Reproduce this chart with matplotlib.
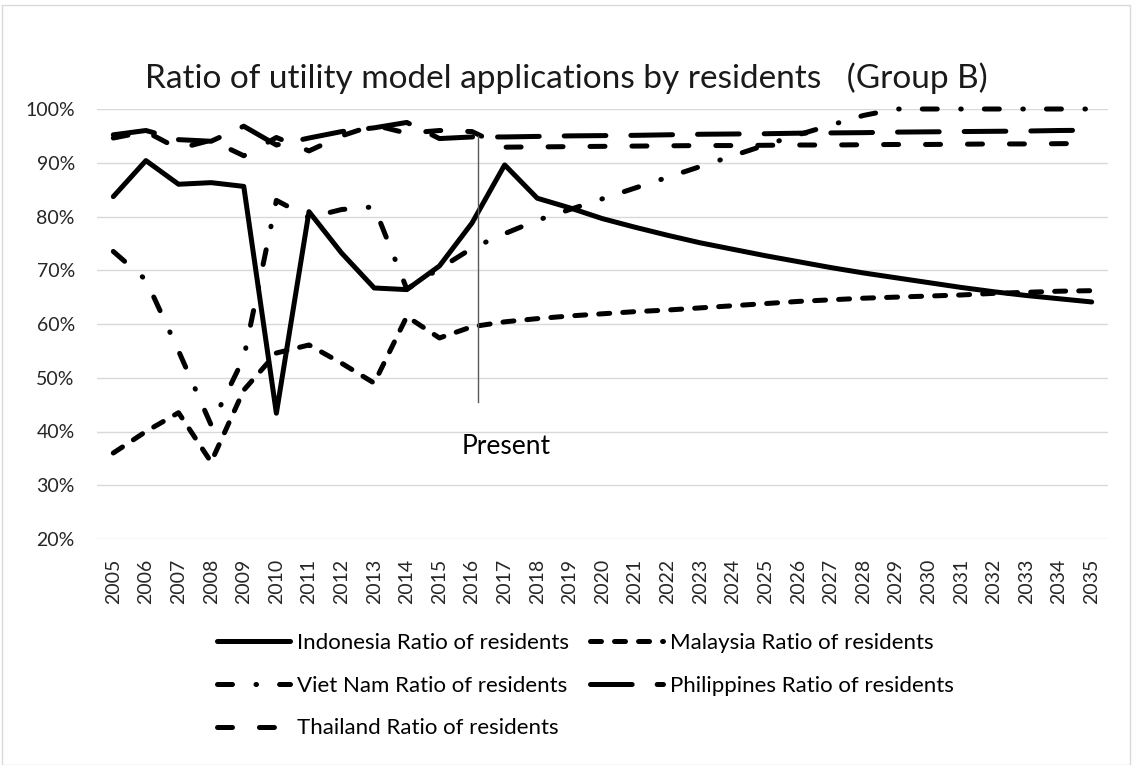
import numpy as np
import matplotlib.pyplot as plt
from matplotlib.patches import Rectangle
from matplotlib.ticker import PercentFormatter

plt.rcParams['font.family'] = ['Lato', 'DejaVu Sans']
plt.rcParams['lines.scale_dashes'] = False

# Données (en %)
years = [str(y) for y in range(2005, 2036)]
indonesia = [83.7, 90.4, 86.0, 86.3, 85.6, 43.4, 80.9, 73.2, 66.7, 66.4, 70.8, 78.8, 89.6,
             83.4, 81.6, 79.6, 78.0, 76.5, 75.1, 73.9, 72.7, 71.6, 70.5, 69.5, 68.6, 67.7,
             66.8, 66.0, 65.3, 64.7, 64.1]
malaysia = [36.0, 40.0, 43.5, 34.3, 47.7, 54.6, 56.1, 52.7, 49.0, 61.4, 57.4, 59.5, 60.4,
            61.0, 61.5, 61.9, 62.3, 62.6, 63.0, 63.4, 63.8, 64.2, 64.5, 64.8, 65.0, 65.2,
            65.4, 65.7, 65.9, 66.1, 66.2]
vietnam = [73.5, 68.2, 55.0, 41.2, 53.7, 83.0, 79.8, 81.3, 81.8, 66.5, 70.3, 74.1, 76.8,
           79.3, 81.3, 83.3, 85.3, 87.3, 89.3, 91.3, 93.3, 95.2, 97.0, 98.8, 100, 100,
           100, 100, 100, 100, 100]
philippines = [95.2, 96.0, 94.3, 94.0, 96.8, 93.3, 94.6, 95.8, 96.5, 97.5, 94.5, 94.8, 94.8,
               94.9, 95.0, 95.05, 95.1, 95.2, 95.3, 95.35, 95.4, 95.5, 95.55, 95.6, 95.7,
               95.75, 95.8, 95.85, 95.9, 96.0, 96.05]
thailand = [94.6, 95.8, 92.6, 94.2, 91.3, 94.7, 92.2, 95.0, 97.0, 95.5, 96.0, 95.8, 92.9,
            92.95, 93.0, 93.05, 93.1, 93.15, 93.2, 93.2, 93.25, 93.3, 93.3, 93.35, 93.4,
            93.4, 93.45, 93.5, 93.5, 93.55, 93.6]

# Repère "Present"
present_x = 11.17
present_y = (45.5, 95.0)

x = np.arange(len(years))

fig = plt.figure(figsize=(11.32, 7.65), dpi=100)
fig.patches.append(Rectangle((0.002, 0.0), 0.996, 0.993, transform=fig.transFigure,
                             fill=False, edgecolor='#d9d9d9', linewidth=1.0))
ax = fig.add_axes([97 / 1132, 1 - 539 / 765, (1108 - 97) / 1132, (539 - 109) / 765])

lw = 3.6
common = dict(color='black', linewidth=lw, clip_on=False,
              dash_capstyle='round', solid_capstyle='round', solid_joinstyle='round')

l_ind, = ax.plot(x, indonesia, linestyle='-', label='Indonesia Ratio of residents', **common)
l_mal, = ax.plot(x, malaysia, linestyle=(0, (7.9, 9.4)), label='Malaysia Ratio of residents', **common)
l_vie, = ax.plot(x, vietnam, linestyle=(0, (10.8, 16.9, 0.4, 16.6)),
                 label='Viet Nam Ratio of residents', **common)
l_phi, = ax.plot(x, philippines, linestyle=(0, (30, 18)),
                 label='Philippines Ratio of residents', **common)
l_tha, = ax.plot(x, thailand, linestyle=(0, (10.8, 19.4)),
                 label='Thailand Ratio of residents', **common)

ax.plot([present_x, present_x], present_y, color='#595959', linewidth=1.0)
ax.text(12.05, 37.2, 'Present', ha='center', va='center', fontsize=19)

ax.set_xlim(-0.5, len(years) - 0.5)
ax.set_ylim(20, 100)
ax.set_yticks(np.arange(20, 101, 10))
ax.yaxis.set_major_formatter(PercentFormatter(decimals=0))
ax.set_xticks(x)
ax.set_xticklabels(years, rotation=90)
ax.tick_params(length=0, labelsize=14, colors='#262626')
ax.tick_params(axis='x', pad=14)
ax.tick_params(axis='y', pad=16)
ax.grid(axis='y', color='#d9d9d9', linewidth=1.0)
ax.set_axisbelow(True)
for s in ax.spines.values():
    s.set_visible(False)

fig.text(0.5, 1 - 78 / 765, 'Ratio of utility model applications by residents   (Group B)',
         ha='center', va='center', fontsize=24, color='#1a1a1a')

fig.legend(handles=[l_ind, l_vie, l_tha, l_mal, l_phi], ncol=2, frameon=False,
           loc='upper left', bbox_to_anchor=(217 / 1132, 1 - 633 / 765),
           fontsize=16, handlelength=3.3, handletextpad=0.3, columnspacing=0.95,
           labelspacing=1.02, borderpad=0, borderaxespad=0)

fig.savefig('out.png', dpi=100)
